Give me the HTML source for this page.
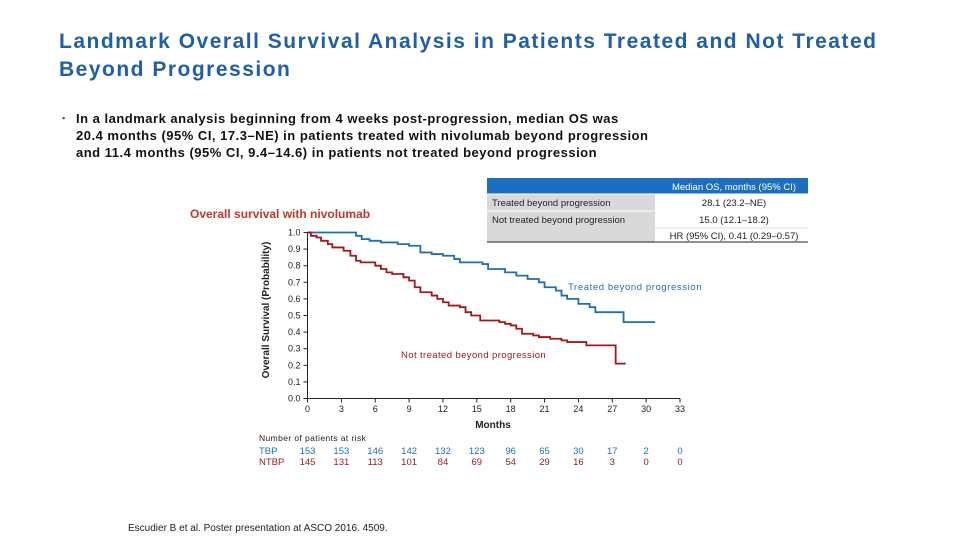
<!DOCTYPE html>
<html><head><meta charset="utf-8">
<style>
body{margin:0;width:960px;height:540px;background:#fff;font-family:"Liberation Sans",sans-serif;position:relative;overflow:hidden}
.t{position:absolute;left:59px;top:28px;color:#1f5fa8;font-size:21px;font-weight:bold;line-height:28px;letter-spacing:1.5px}
.b{position:absolute;left:62px;top:110px;font-size:13px;font-weight:bold;color:#111;line-height:17px;letter-spacing:0.5px}
.b span{position:absolute;left:0;top:0;font-size:9px;color:#555}
.b div{margin-left:14px}
.ref{position:absolute;left:128px;top:523px;font-size:10px;color:#222}
</style></head><body>
<div class="t">Landmark Overall Survival Analysis in Patients Treated and Not Treated<br>Beyond Progression</div>
<div class="b"><span>▪</span><div>In a landmark analysis beginning from 4 weeks post-progression, median OS was<br>20.4 months (95% CI, 17.3–NE) in patients treated with nivolumab beyond progression<br>and 11.4 months (95% CI, 9.4–14.6) in patients not treated beyond progression</div></div>
<div class="ref">Escudier B et al. Poster presentation at ASCO 2016. 4509.</div>
<svg id="c" width="960" height="540" style="position:absolute;left:0;top:0" font-family="Liberation Sans, sans-serif"></svg>
<script>
const xTicks=[0,3,6,9,12,15,18,21,24,27,30,33];
const yTicks=[0,0.1,0.2,0.3,0.4,0.5,0.6,0.7,0.8,0.9,1.0];
const tbpT=[0,4.3,4.8,5.5,6.5,8,9,10,11,12,13,13.5,14,15.5,16,17.5,18.5,19.5,20.5,21,22,22.5,23,24,25,25.5,28,30.8];
const tbpS=[1,0.98,0.96,0.95,0.94,0.93,0.92,0.88,0.87,0.86,0.84,0.82,0.82,0.81,0.78,0.76,0.74,0.72,0.70,0.67,0.65,0.62,0.60,0.57,0.55,0.52,0.46,0.46];
const ntbT=[0,0.3,0.8,1.2,1.8,2.2,3.2,3.8,4.3,4.7,6,6.5,7,7.5,8.5,9,9.5,10,11,11.5,12,12.5,13.5,14,14.5,15.3,17,17.5,18,18.5,19,20,20.5,21.5,22.5,23,24.7,27.3,28.2];
const ntbS=[1,0.98,0.97,0.95,0.93,0.91,0.89,0.86,0.83,0.82,0.80,0.78,0.76,0.75,0.73,0.71,0.67,0.64,0.62,0.60,0.58,0.56,0.55,0.52,0.50,0.47,0.46,0.45,0.44,0.42,0.39,0.38,0.37,0.36,0.35,0.34,0.32,0.21,0.21];
const riskTBP=[153,153,146,142,132,123,96,65,30,17,2,0];
const riskNTBP=[145,131,113,101,84,69,54,29,16,3,0,0];
const X=v=>307.5+v*(680-307.5)/33, Y=v=>398.5-v*166;
const svg=document.getElementById('c');const NS='http://www.w3.org/2000/svg';
function mk(tag,a,txt){const e=document.createElementNS(NS,tag);for(const k in a)e.setAttribute(k,a[k]);if(txt!==undefined)e.textContent=txt;svg.appendChild(e);return e;}
let e;
e=mk('rect',{x:487,y:178,width:321,height:16,fill:'#1b6fc2'});


mk('rect',{x:487,y:194,width:168,height:48,fill:'#d9d9d9'});
mk('line',{x1:487,y1:194,x2:808,y2:194,stroke:'#fff'});
mk('line',{x1:487,y1:211,x2:808,y2:211,stroke:'#fff'});
mk('line',{x1:655,y1:228,x2:808,y2:228,stroke:'#ddd'});
mk('line',{x1:487,y1:242,x2:808,y2:242,stroke:'#222'});
mk('text',{x:734,y:190,'font-size':9.5,fill:'#fff','text-anchor':'middle'},'Median OS, months (95% CI)');
mk('text',{x:492,y:206,'font-size':9.5,fill:'#222'},'Treated beyond progression');
mk('text',{x:492,y:223,'font-size':9.5,fill:'#222'},'Not treated beyond progression');
mk('text',{x:734,y:206,'font-size':9.5,fill:'#222','text-anchor':'middle'},'28.1 (23.2–NE)');
mk('text',{x:734,y:223,'font-size':9.5,fill:'#222','text-anchor':'middle'},'15.0 (12.1–18.2)');
mk('text',{x:734,y:239,'font-size':9.5,fill:'#222','text-anchor':'middle'},'HR (95% CI), 0.41 (0.29–0.57)');
e=mk('text',{x:190,y:218,'font-size':12,fill:'#c0392b','font-weight':'bold'},'Overall survival with nivolumab');


mk('line',{x1:X(0),y1:Y(0),x2:X(33),y2:Y(0),stroke:'#222'});
mk('line',{x1:X(0),y1:Y(0),x2:X(0),y2:Y(1),stroke:'#222'});
xTicks.forEach(t=>{mk('line',{x1:X(t),y1:Y(0),x2:X(t),y2:Y(0)+4,stroke:'#222'});
 e=mk('text',{x:X(t),y:412,'font-size':9,fill:'#222','text-anchor':'middle'},t);
 
 });
yTicks.forEach(t=>{mk('line',{x1:X(0)-4,y1:Y(t),x2:X(0),y2:Y(t),stroke:'#222'});
 e=mk('text',{x:X(0)-7,y:Y(t)+3,'font-size':9,fill:'#222','text-anchor':'end'},t.toFixed(1));
 
 });
e=mk('text',{x:493,y:428,'font-size':10,'font-weight':'bold',fill:'#222','text-anchor':'middle'},'Months');


e=mk('text',{x:0,y:0,'font-size':10,'font-weight':'bold',fill:'#222','text-anchor':'middle',transform:'translate(269,310) rotate(-90)'},'Overall Survival (Probability)');


function curve(T,S,col,name){let d='M'+X(T[0])+','+Y(S[0]);
 for(let i=1;i<T.length;i++){d+='H'+X(T[i])+'V'+Y(S[i]);}
 const p=mk('path',{d:d,fill:'none',stroke:col,'stroke-width':1.8});
 
 }
curve(tbpT,tbpS,'#1f6fb5','curve-treated');
curve(ntbT,ntbS,'#a11a1a','curve-not-treated');
e=mk('text',{x:568,y:290,'font-size':9.5,fill:'#1f6fb5','letter-spacing':0.6},'Treated beyond progression');


e=mk('text',{x:401,y:358,'font-size':9.5,fill:'#a11a1a','letter-spacing':0.4},'Not treated beyond progression');


mk('text',{x:259,y:441,'font-size':8.5,fill:'#222','letter-spacing':0.4},'Number of patients at risk');
mk('text',{x:259,y:454,'font-size':9.5,fill:'#1f6fb5'},'TBP');
mk('text',{x:259,y:465,'font-size':9.5,fill:'#a11a1a'},'NTBP');
xTicks.forEach((t,i)=>{
 e=mk('text',{x:X(t),y:454,'font-size':9.5,fill:'#1f6fb5','text-anchor':'middle'},riskTBP[i]);
 
 
 e=mk('text',{x:X(t),y:465,'font-size':9.5,fill:'#a11a1a','text-anchor':'middle'},riskNTBP[i]);
 
 });
</script>
</body></html>
